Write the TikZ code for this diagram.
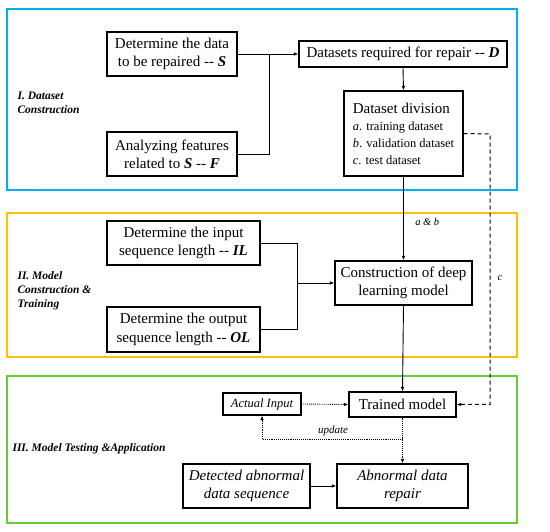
\documentclass[tikz,border=0pt]{standalone}
\usepackage{fontspec}
\setmainfont{Liberation Serif}
\usetikzlibrary{arrows.meta}
\definecolor{fblue}{RGB}{0,176,240}
\definecolor{forange}{RGB}{255,192,0}
\definecolor{fgreen}{RGB}{102,204,51}
\newcommand{\dd}{-{}-}
\tikzset{
  box/.style={draw=black,line width=1.1pt,inner sep=2pt,align=center,font=\fontsize{15}{18.3}\selectfont},
  frame/.style={line width=1.4pt},
  conn/.style={line width=0.9pt},
  arr/.style={conn,-{Latex[length=4.5pt,width=3.5pt]}},
  sect/.style={anchor=west,align=left,font=\fontsize{11.5}{14}\selectfont\bfseries\itshape},
  lbl/.style={font=\fontsize{10.5}{12}\selectfont\itshape},
}
\begin{document}
\begin{tikzpicture}[x=1pt,y=-1pt]
\useasboundingbox (0,0) rectangle (550,532);
\fill[white] (0,0) rectangle (550,532);
% frames
\draw[frame,fblue] (7,9) rectangle (517,190);
\draw[frame,forange] (7,213) rectangle (517,357);
\draw[frame,fgreen] (7,376) rectangle (517,523);
% section labels
\node[sect] (s1) at (14,103) {I. Dataset\\Construction};
\node[sect] (s2) at (14,291) {II. Model\\Construction \&\\Training};
\node[sect] (s3) at (9,449) {III. Model Testing \&Application};
% section I
\node[box,minimum width=130pt,minimum height=44pt] (S) at (172,54) {Determine the data\\to be repaired \dd{} \textbf{\textit{S}}};
\node[box,minimum width=130pt,minimum height=44pt] (F) at (172,154) {Analyzing features\\related to \textbf{\textit{S}} \dd{} \textbf{\textit{F}}};
\node[box,minimum width=208pt,minimum height=26pt] (D) at (403,54) {Datasets required for repair \dd{} \textbf{\textit{D}}};
\node[box,minimum width=119pt,minimum height=85pt,align=left] (Div) at (403.5,133.5) {Dataset division\\[-1pt]{\fontsize{12.5}{16.5}\selectfont\textit{a}. training dataset}\\[-1.5pt]{\fontsize{12.5}{16.5}\selectfont\textit{b}. validation dataset}\\[-1.5pt]{\fontsize{12.5}{16.5}\selectfont\textit{c}. test dataset}};
% section II
\node[box,minimum width=153pt,minimum height=44pt] (IL) at (183.5,243) {Determine the input\\sequence length \dd{} \textbf{\textit{IL}}};
\node[box,minimum width=153pt,minimum height=45pt] (OL) at (183.5,329.5) {Determine the output\\sequence length \dd{} \textbf{\textit{OL}}};
\node[box,minimum width=137pt,minimum height=44pt] (C) at (403.5,283) {Construction of deep\\learning model};
% section III
\node[box,minimum width=107pt,minimum height=25pt] (T) at (402.5,404.5) {Trained model};
\node[box,minimum width=78pt,minimum height=22pt,font=\fontsize{12.5}{14}\selectfont\itshape] (A) at (262,404) {Actual Input};
\node[box,minimum width=127pt,minimum height=44pt,font=\fontsize{15}{18.3}\selectfont\itshape] (Det) at (246.5,486) {Detected abnormal\\data sequence};
\node[box,minimum width=131pt,minimum height=44pt,font=\fontsize{15}{18.3}\selectfont\itshape] (R) at (402.5,486) {Abnormal data\\repair};
% connectors section I
\coordinate (j1) at (269,54);
\draw[conn] (S.east) -- (j1);
\draw[conn] (F.east) -| (j1);
\draw[arr] (j1) -- (D.west);
\draw[arr] (D.south) -- (Div.north);
\draw[arr] (Div.south) -- node[lbl,right,pos=0.54,xshift=8pt] {a \& b} (C.north);
% section II
\coordinate (j2) at (297,283);
\draw[conn] (IL.east) -| (j2);
\draw[conn] (OL.east) -| (j2);
\draw[arr] (j2) -- (C.west);
\draw[arr] (C.south) -- (T.north);
% dashed c
\coordinate (c1) at (490,134);
\draw[arr,line width=1pt,dash pattern=on 4pt off 3pt] (Div.east) -- (c1) |- (T.east);
\node[lbl] (clbl) at (500,278) {c};
% dotted
\draw[arr,densely dotted] (A.east) -- (T.west);
\draw[arr,densely dotted] (T.south) -- (R.north);
\coordinate (u) at (402.5,439);
\draw[arr,densely dotted] (u) -| (A.south);
\node[lbl,font=\fontsize{11}{12}\selectfont\itshape] (ul) at (333,431) {update};
\draw[arr] (Det.east) -- (R.west);
\end{tikzpicture}
\end{document}
